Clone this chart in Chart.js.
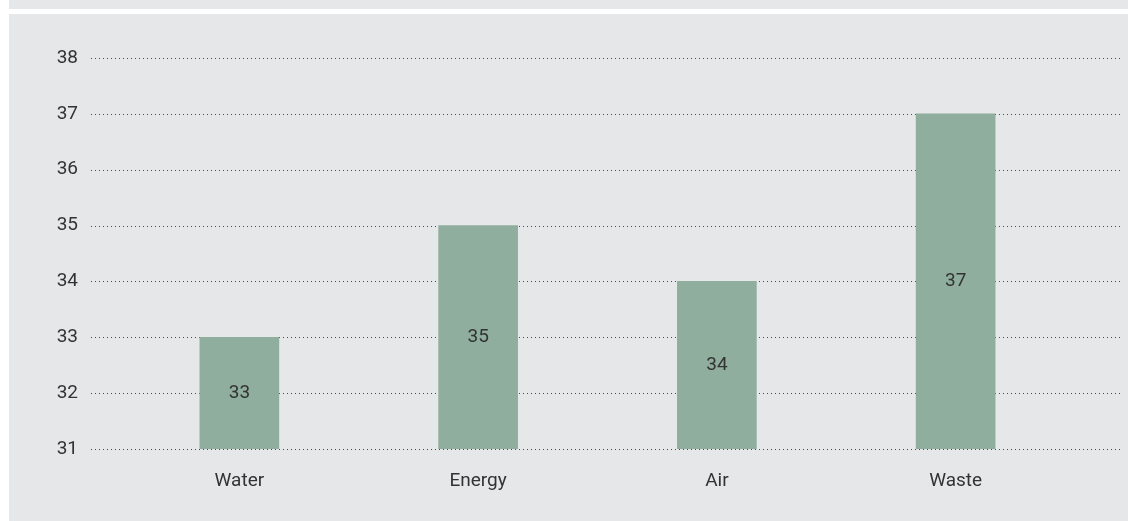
<!DOCTYPE html>
<html>
<head>
<meta charset="utf-8">
<script src="https://cdn.jsdelivr.net/npm/chart.js@4/dist/chart.umd.min.js"></script>
<style>
  html, body { margin: 0; padding: 0; background: #ffffff; }
  body { width: 1128px; height: 521px; position: relative; overflow: hidden; }
  #strip { position: absolute; left: 9px; top: 0; width: 1119px; height: 9px; background: #e6e7e9; }
  #panel { position: absolute; left: 9px; top: 14px; width: 1119px; height: 507px; background: #e6e7e9; }
  #chart { display: block; }
</style>
</head>
<body>
<div id="strip"></div>
<div id="panel"><canvas id="chart" width="1119" height="507"></canvas></div>
<script>
// Categories and values
const categories = ['Water', 'Energy', 'Air', 'Waste'];
const scores = [33, 35, 34, 37];
const yTicks = [31, 32, 33, 34, 35, 36, 37, 38];

const textColor = '#333333';
const fontFamily = 'Roboto, "DejaVu Sans", sans-serif';
const fontSize = 19;

// Dotted horizontal rules that run past the plot area on both sides
const dottedRules = {
  id: 'dottedRules',
  beforeDatasetsDraw(chart) {
    const ctx = chart.ctx;
    const y = chart.scales.y;
    ctx.save();
    ctx.strokeStyle = '#4a4a4a';
    ctx.lineWidth = 1;
    ctx.setLineDash([1, 3]);
    yTicks.forEach(v => {
      const py = Math.round(y.getPixelForValue(v)) + 0.5;
      ctx.beginPath();
      ctx.moveTo(82, py);
      ctx.lineTo(1111, py);
      ctx.stroke();
    });
    ctx.restore();
  }
};

// Value written in the middle of each bar
const barValues = {
  id: 'barValues',
  afterDatasetsDraw(chart) {
    const ctx = chart.ctx;
    const meta = chart.getDatasetMeta(0);
    ctx.save();
    ctx.fillStyle = textColor;
    ctx.font = fontSize + 'px ' + fontFamily;
    ctx.textAlign = 'center';
    ctx.textBaseline = 'middle';
    meta.data.forEach((bar, i) => {
      const mid = (bar.y + bar.base) / 2;
      ctx.fillText(String(scores[i]), bar.x, mid);
    });
    ctx.restore();
  }
};

new Chart(document.getElementById('chart'), {
  type: 'bar',
  data: {
    labels: categories,
    datasets: [{
      data: scores,
      backgroundColor: '#8fae9e',
      borderWidth: 0,
      barThickness: 79,
      base: 31
    }]
  },
  options: {
    responsive: false,
    animation: false,
    layout: { padding: { top: 44, right: 53, left: 0, bottom: 0 } },
    plugins: { legend: { display: false }, tooltip: { enabled: false } },
    scales: {
      x: {
        grid: { display: false, drawTicks: false },
        border: { display: false },
        ticks: { color: textColor, font: { size: fontSize, family: fontFamily }, padding: 21 },
        afterFit(s) { s.height = 72; }
      },
      y: {
        min: 31,
        max: 38,
        afterBuildTicks(s) { s.ticks = yTicks.map(v => ({ value: v })); },
        grid: { display: false, drawTicks: false },
        border: { display: false },
        ticks: { color: textColor, font: { size: fontSize, family: fontFamily }, padding: 42 },
        afterFit(s) {
          s.width = 111;
          s.paddingTop = 0;
          s.paddingBottom = 0;
        }
      }
    }
  },
  plugins: [dottedRules, barValues]
});
</script>
</body>
</html>
